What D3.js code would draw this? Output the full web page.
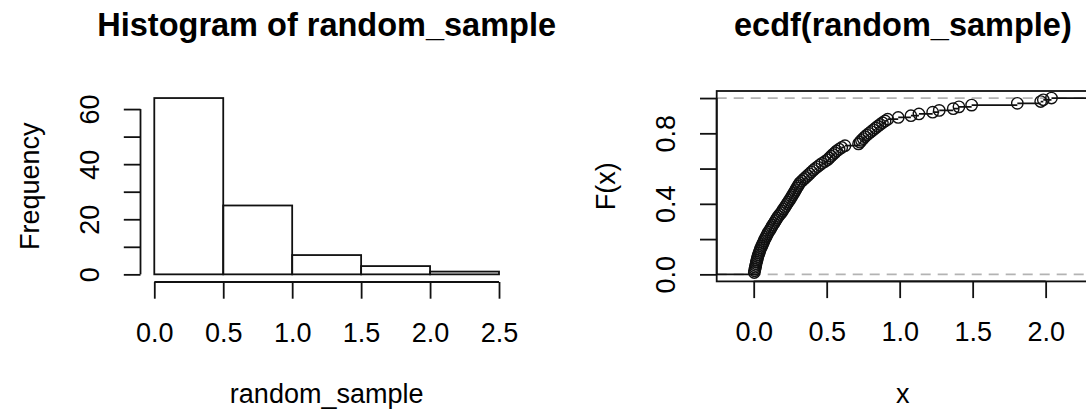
<!DOCTYPE html>
<html>
<head>
<meta charset="utf-8">
<script src="https://cdn.jsdelivr.net/npm/d3@7"></script>
<style>
  html, body { margin: 0; padding: 0; background: #fff; }
  svg { display: block; font-family: "Liberation Sans", Arial, Helvetica, sans-serif; }
</style>
</head>
<body>
<div id="chart"></div>
<script>

// sorted sample (right panel)
const randomSample = [
    0.004, 0.006, 0.009, 0.011, 0.014, 0.016, 0.019, 0.022, 0.025, 0.028,
    0.032, 0.036, 0.040, 0.044, 0.049, 0.055, 0.060, 0.066, 0.071, 0.077,
    0.083, 0.089, 0.095, 0.102, 0.110, 0.117, 0.124, 0.131, 0.139, 0.146,
    0.154, 0.161, 0.169, 0.178, 0.190, 0.197, 0.205, 0.213, 0.221, 0.229,
    0.237, 0.245, 0.252, 0.260, 0.267, 0.274, 0.281, 0.288, 0.295, 0.302,
    0.309, 0.317, 0.330, 0.343, 0.356, 0.369, 0.382, 0.395, 0.408, 0.421,
    0.437, 0.452, 0.468, 0.488, 0.506, 0.518, 0.530, 0.542, 0.556, 0.568,
    0.585, 0.603, 0.625, 0.718, 0.728, 0.738, 0.750, 0.762, 0.775, 0.790,
    0.805, 0.820, 0.835, 0.850, 0.866, 0.882, 0.900, 0.918, 0.990, 1.077,
    1.132, 1.226, 1.271, 1.367, 1.406, 1.493, 1.806, 1.966, 1.984, 2.040
];

const histBreaks = [0, 0.5, 1, 1.5, 2, 2.5];
const histXTicks = [0, 0.5, 1, 1.5, 2, 2.5];
const histYTicks = [0, 10, 20, 30, 40, 50, 60];
const histYLabels = [0, 20, 40, 60];

const ecdfXTicks = [0, 0.5, 1, 1.5, 2];
const ecdfYTicks = [0, 0.2, 0.4, 0.6, 0.8, 1];
const ecdfYLabels = [0, 0.4, 0.8];
const ecdfRefLines = [0, 1];

const props = {
    width: 1086,
    height: 414,
    axisFont: 27,
    titleFont: 32.5,
    tickSize: 16.7,
    lineWidth: 1.8,
    stroke: "#111",
    dash: {stroke: "#b3b3b3", pattern: "10,7"},
    point: {radius: 5.7, strokeWidth: 1.4},
    hist: {left: 140.5, right: 512.8, top: 91, bottom: 281.4, xDomain: [-0.1, 2.6], yDomain: [-2.56, 66.56]},
    ecdf: {left: 716.7, right: 1089, top: 91, bottom: 281.4, xDomain: [-0.2535, 2.297], yDomain: [-0.04, 1.04]}
};

const svg = d3.select("#chart").append("svg")
    .attr("width", props.width)
    .attr("height", props.height);

const fmt1 = d3.format(".1f");

// R style axes: line from first to last tick, ticks outward, labels rotated on side 2
const drawBottomAxis = (scale, ticks, y) => {
    const g = svg.append("g")
        .attr("transform", `translate(0,${y})`)
        .call(d3.axisBottom(scale).tickValues(ticks).tickSize(props.tickSize).tickFormat(fmt1));
    g.select(".domain").remove();
    g.selectAll(".tick line").attr("stroke", props.stroke).attr("stroke-width", props.lineWidth);
    g.append("line")
        .attr("x1", scale(ticks[0])).attr("x2", scale(ticks[ticks.length - 1]))
        .attr("stroke", props.stroke).attr("stroke-width", props.lineWidth);
    g.selectAll(".tick text")
        .attr("y", 60)
        .attr("dy", 0)
        .attr("font-size", props.axisFont)
        .attr("font-family", null)
        .attr("fill", "#000");
};

const drawLeftAxis = (scale, ticks, labels, x, format) => {
    const g = svg.append("g")
        .attr("transform", `translate(${x},0)`)
        .call(d3.axisLeft(scale).tickValues(ticks).tickSize(props.tickSize)
            .tickFormat((d) => labels.includes(d) ? format(d) : ""));
    g.select(".domain").remove();
    g.selectAll(".tick line").attr("stroke", props.stroke).attr("stroke-width", props.lineWidth);
    g.append("line")
        .attr("y1", scale(ticks[0])).attr("y2", scale(ticks[ticks.length - 1]))
        .attr("stroke", props.stroke).attr("stroke-width", props.lineWidth);
    g.selectAll(".tick text")
        .attr("transform", "rotate(-90)")
        .attr("x", 0)
        .attr("y", -42)
        .attr("dy", 0)
        .attr("text-anchor", "middle")
        .attr("font-size", props.axisFont)
        .attr("font-family", null)
        .attr("fill", "#000");
};

const addText = (txt, x, y, size, weight, rotate) => {
    svg.append("text")
        .attr("transform", rotate ? `translate(${x},${y}) rotate(-90)` : `translate(${x},${y})`)
        .attr("text-anchor", "middle")
        .attr("font-size", size)
        .attr("font-weight", weight)
        .attr("fill", "#000")
        .text(txt);
};

// ---------- histogram ----------
const h = props.hist;
const xHist = d3.scaleLinear().domain(h.xDomain).range([h.left, h.right]);
const yHist = d3.scaleLinear().domain(h.yDomain).range([h.bottom, h.top]);

const bins = d3.bin()
    .domain([histBreaks[0], histBreaks[histBreaks.length - 1]])
    .thresholds(histBreaks.slice(1, -1))(randomSample);

svg.append("g").attr("class", "barGroup")
    .selectAll(".bar")
    .data(bins)
    .join("rect")
    .attr("class", "bar")
    .attr("x", (d) => xHist(d.x0))
    .attr("width", (d) => xHist(d.x1) - xHist(d.x0))
    .attr("y", (d) => yHist(d.length))
    .attr("height", (d) => yHist(0) - yHist(d.length))
    .attr("fill", "none")
    .attr("stroke", props.stroke)
    .attr("stroke-width", props.lineWidth);

drawBottomAxis(xHist, histXTicks, h.bottom + 0.6);
drawLeftAxis(yHist, histYTicks, histYLabels, h.left, d3.format("d"));

const hMid = (h.left + h.right) / 2;
addText("Histogram of random_sample", hMid, 36, props.titleFont, "bold", false);
addText("random_sample", hMid, 403, props.axisFont, "normal", false);
addText("Frequency", 39, (h.top + h.bottom) / 2, props.axisFont, "normal", true);

// ---------- ecdf ----------
const e = props.ecdf;
const xEcdf = d3.scaleLinear().domain(e.xDomain).range([e.left, e.right]);
const yEcdf = d3.scaleLinear().domain(e.yDomain).range([e.bottom, e.top]);

svg.append("clipPath").attr("id", "ecdfClip")
    .append("rect")
    .attr("x", e.left).attr("y", e.top)
    .attr("width", e.right - e.left).attr("height", e.bottom - e.top);

const ecdfGroup = svg.append("g").attr("clip-path", "url(#ecdfClip)");

ecdfGroup.selectAll(".refLine")
    .data(ecdfRefLines)
    .join("line")
    .attr("class", "refLine")
    .attr("x1", e.left).attr("x2", e.right)
    .attr("y1", (d) => yEcdf(d)).attr("y2", (d) => yEcdf(d))
    .attr("stroke", props.dash.stroke)
    .attr("stroke-width", props.lineWidth)
    .attr("stroke-dasharray", props.dash.pattern);

const sorted = randomSample.slice().sort(d3.ascending);
const n = sorted.length;
const steps = [{x0: e.xDomain[0], x1: sorted[0], y: 0}]
    .concat(sorted.map((v, i) => ({x0: v, x1: i < n - 1 ? sorted[i + 1] : e.xDomain[1], y: (i + 1) / n})));

ecdfGroup.selectAll(".stepLine")
    .data(steps)
    .join("line")
    .attr("class", "stepLine")
    .attr("x1", (d) => xEcdf(d.x0)).attr("x2", (d) => xEcdf(d.x1))
    .attr("y1", (d) => yEcdf(d.y)).attr("y2", (d) => yEcdf(d.y))
    .attr("stroke", props.stroke)
    .attr("stroke-width", props.lineWidth);

ecdfGroup.selectAll(".ecdfPoint")
    .data(sorted)
    .join("circle")
    .attr("class", "ecdfPoint")
    .attr("cx", (d) => xEcdf(d))
    .attr("cy", (d, i) => yEcdf((i + 1) / n))
    .attr("r", props.point.radius)
    .attr("fill", "none")
    .attr("stroke", props.stroke)
    .attr("stroke-width", props.point.strokeWidth);

svg.append("rect")
    .attr("x", e.left).attr("y", e.top)
    .attr("width", e.right - e.left).attr("height", e.bottom - e.top)
    .attr("fill", "none")
    .attr("stroke", props.stroke)
    .attr("stroke-width", props.lineWidth);

drawBottomAxis(xEcdf, ecdfXTicks, e.bottom);
drawLeftAxis(yEcdf, ecdfYTicks, ecdfYLabels, e.left, fmt1);

const eMid = (e.left + e.right) / 2;
addText("ecdf(random_sample)", eMid, 36, props.titleFont, "bold", false);
addText("x", eMid, 403, props.axisFont, "normal", false);
addText("F(x)", e.left - 102, (e.top + e.bottom) / 2, props.axisFont, "normal", true);

</script>
</body>
</html>
